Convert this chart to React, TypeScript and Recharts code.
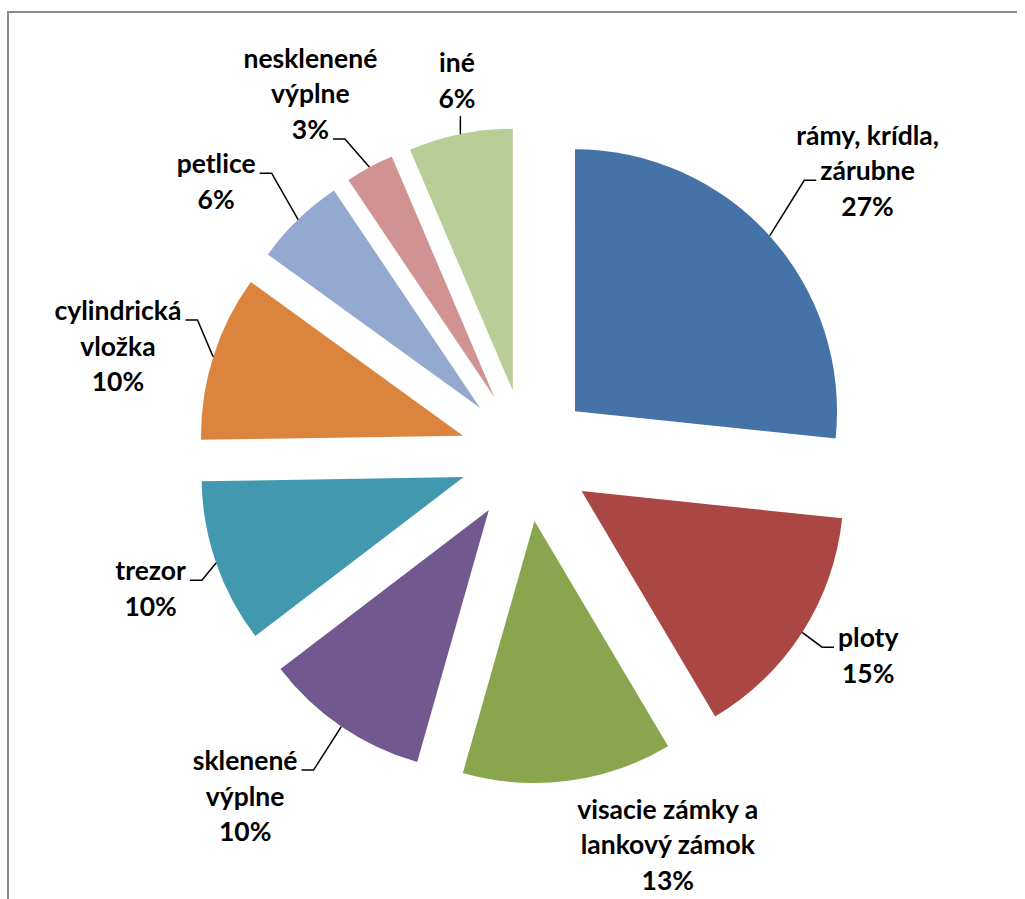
import { PieChart, Pie, Cell } from "recharts";

const CATEGORIES = [
  "rámy, krídla, zárubne",
  "ploty",
  "visacie zámky a lankový zámok",
  "sklenené výplne",
  "trezor",
  "cylindrická vložka",
  "petlice",
  "nesklenené výplne",
  "iné",
];

const LABEL_LINES = [
  ["rámy, krídla,", "zárubne"],
  ["ploty"],
  ["visacie zámky a", "lankový zámok"],
  ["sklenené", "výplne"],
  ["trezor"],
  ["cylindrická", "vložka"],
  ["petlice"],
  ["nesklenené", "výplne"],
  ["iné"],
];

// shares (labels show the rounded percent)
const SHARES = [26.6, 14.8, 12.9, 10.2, 10.1, 10.2, 5.6, 3.0, 6.4];

const COLORS = [
  "#4572A7",
  "#AA4643",
  "#89A54E",
  "#71588F",
  "#4198AF",
  "#DB843D",
  "#93A9CF",
  "#D19392",
  "#B9CD96",
];

// label placement tweaks (px) relative to the default polar spot
const LABEL_NUDGE: [number, number][] = [
  [37, -10],
  [-3, -21],
  [89, -17],
  [-50, 2],
  [12, -1],
  [-17, 14],
  [-25, 21],
  [-20, -1],
  [13, 27],
];
// leader: R = text right of elbow, L = text left, T = straight up, N = none
const LEADER_SIDE = ["R", "R", "N", "L", "L", "L", "L", "L", "T"];
const LEADER_ROW = [1, 0, 0, 0, 0, 0, 0, 2, 0];

const W = 1010;
const H = 891;
const CX = 519;
const CY = 447.5;
const RADIUS = 262;
const EXPLODE = 66;
const LABEL_R = 410;
const FS = 26.5;
const LINE_H = 35.5;
const FONT = "Lato, 'Open Sans', sans-serif";

const chartData = CATEGORIES.map((name, i) => ({ name, value: SHARES[i] }));

const total = SHARES.reduce((a, b) => a + b, 0);
const midAngles = SHARES.map((v, i) => {
  const before = SHARES.slice(0, i).reduce((a, b) => a + b, 0);
  return 90 - (360 * (before + v / 2)) / total;
});

const RAD = Math.PI / 180;

let measureCtx: CanvasRenderingContext2D | null = null;
function textWidth(s: string) {
  if (!measureCtx) measureCtx = document.createElement("canvas").getContext("2d");
  if (!measureCtx) return s.length * FS * 0.5;
  measureCtx.font = `bold ${FS}px Lato`;
  return measureCtx.measureText(s).width;
}

function renderLabel(props: any) {
  const { cx, cy, midAngle, outerRadius, percent, index } = props;
  const cos = Math.cos(-midAngle * RAD);
  const sin = Math.sin(-midAngle * RAD);
  const lines = [...LABEL_LINES[index], `${Math.round(percent * 100)}%`];
  const [nx, ny] = LABEL_NUDGE[index];
  const tx = cx + LABEL_R * cos + nx;
  const ty = cy + LABEL_R * sin + ny;
  const n = lines.length;
  const baselines = lines.map((_, i) => ty + (i - (n - 1) / 2) * LINE_H + FS * 0.35);

  // point on the exploded slice's outer arc
  const px = cx + (outerRadius + EXPLODE) * cos;
  const py = cy + (outerRadius + EXPLODE) * sin;

  let leader: string | null = null;
  const side = LEADER_SIDE[index];
  if (side === "R" || side === "L") {
    const row = LEADER_ROW[index];
    const half = textWidth(lines[row]) / 2;
    const ey = baselines[row];
    const hx = side === "R" ? tx - half - 4 : tx + half + 4;
    const ex = side === "R" ? hx - 12 : hx + 12;
    leader = `M${px},${py}L${ex},${ey}L${hx},${ey}`;
  } else if (side === "T") {
    leader = `M${px},${py}L${px},${py - 18}`;
  }

  return (
    <g key={`lbl-${index}`}>
      {leader && <path d={leader} stroke="#000" strokeWidth={1.5} fill="none" />}
      <text
        textAnchor="middle"
        fill="#000"
        fontFamily={FONT}
        fontWeight={700}
        fontSize={FS}
      >
        {lines.map((t, i) => (
          <tspan key={i} x={tx} y={baselines[i]}>
            {t}
          </tspan>
        ))}
      </text>
    </g>
  );
}

export default function App() {
  return (
    <div
      style={{
        position: "absolute",
        width: W,
        height: H,
        marginLeft: -1,
        overflow: "hidden",
        background: "#fff",
      }}
    >
      <div
        style={{
          position: "absolute",
          left: 0,
          top: 3,
          width: W + 40,
          height: H + 40,
          borderLeft: "2px solid #8c8c8c",
          borderTop: "2px solid #8c8c8c",
          boxSizing: "border-box",
        }}
      />
      <div style={{ position: "absolute", left: 0, top: 0 }}>
        <PieChart width={W} height={H} margin={{ top: 0, right: 0, bottom: 0, left: 0 }}>
          <Pie
            data={chartData}
            dataKey="value"
            nameKey="name"
            cx={CX}
            cy={CY}
            outerRadius={RADIUS}
            startAngle={90}
            endAngle={-270}
            stroke="none"
            label={renderLabel}
            labelLine={false}
            isAnimationActive={false}
          >
            {chartData.map((entry, i) => (
              <Cell
                key={`cell-${i}`}
                fill={COLORS[i]}
                transform={`translate(${EXPLODE * Math.cos(-midAngles[i] * RAD)},${
                  EXPLODE * Math.sin(-midAngles[i] * RAD)
                })`}
              />
            ))}
          </Pie>
        </PieChart>
      </div>
    </div>
  );
}
